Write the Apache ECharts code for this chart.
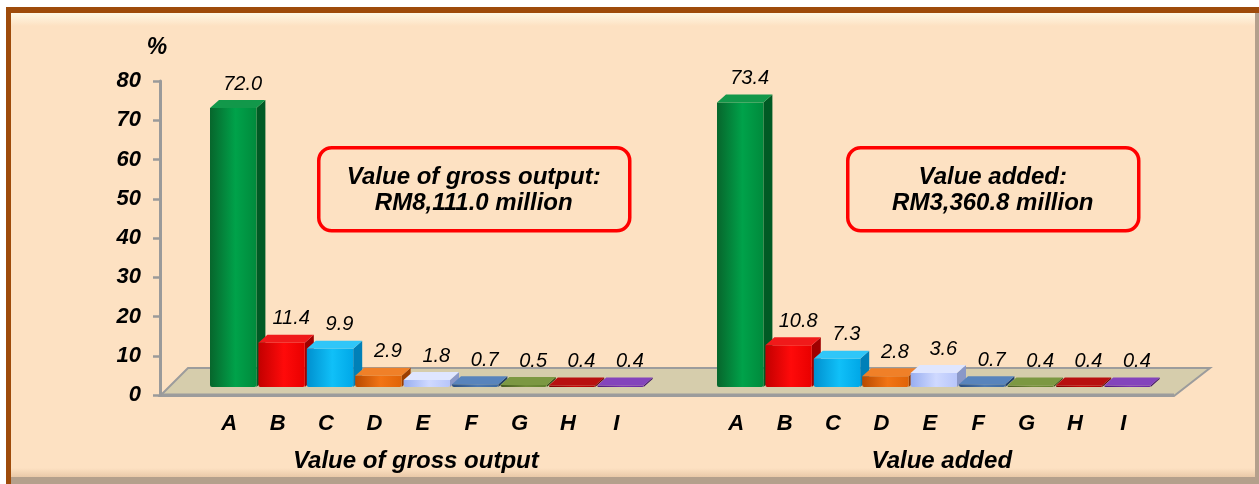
<!DOCTYPE html>
<html>
<head>
<meta charset="utf-8">
<script src="https://cdn.jsdelivr.net/npm/echarts@6/dist/echarts.min.js"></script>
<style>
  html, body { margin: 0; padding: 0; background: #fff; }
  #chart { width: 1259px; height: 484px; }
</style>
</head>
<body>
<div id="chart"></div>
<script>
// industry categories and percentage shares
const industries = ['A', 'B', 'C', 'D', 'E', 'F', 'G', 'H', 'I'];
const grossOutputShare = [72.0, 11.4, 9.9, 2.9, 1.8, 0.7, 0.5, 0.4, 0.4];
const valueAddedShare = [73.4, 10.8, 7.3, 2.8, 3.6, 0.7, 0.4, 0.4, 0.4];
const groupNames = ['Value of gross output', 'Value added'];
const boxTexts = ['Value of gross output:\nRM8,111.0 million', 'Value added:\nRM3,360.8 million'];

// per-industry colours: front gradient dark/light/edge, top face, side face
const palette = [
  { dark: '#07662c', light: '#00a24a', edge: '#008a3c', top: '#12984a', side: '#005a24' },
  { dark: '#c20000', light: '#ff0a0a', edge: '#e80000', top: '#f01a1a', side: '#a00000' },
  { dark: '#0090cf', light: '#10c0f8', edge: '#00a8e8', top: '#30c6f8', side: '#0080b8' },
  { dark: '#b84a00', light: '#f27414', edge: '#e06408', top: '#f08028', side: '#9c3e00' },
  { dark: '#98aef0', light: '#cfd9ff', edge: '#b8c6fa', top: '#dfe6ff', side: '#8a98c8' },
  { dark: '#2a4f80', light: '#4d7ab2', edge: '#3e6aa0', top: '#5884bc', side: '#203e64' },
  { dark: '#465a1e', light: '#718c38', edge: '#62802e', top: '#7c9842', side: '#384a16' },
  { dark: '#7a0000', light: '#c40606', edge: '#a80000', top: '#b81010', side: '#5c0000' },
  { dark: '#4c1878', light: '#7a32b2', edge: '#6828a0', top: '#8444bc', side: '#3c1064' }
];

const FONT = 'Liberation Sans, Arial, sans-serif';
const DX = 9, DY = 8; // 3d depth of the bars
const FLOOR = { frontY: 396, backY: 368, frontL: 160, backL: 188, frontR: 1174, backR: 1210 };

function renderBar(params, api) {
  const i = api.value(0);
  const v = api.value(1);
  const base = api.coord([i, 0]);
  const top = api.coord([i, v]);
  const slot = api.size([1, 0])[0];
  const w = slot - 2;
  const x0 = base[0] - slot / 2;
  const x1 = x0 + w;
  const yb = base[1];
  const yt = top[1];
  const c = palette[i];
  return {
    type: 'group',
    children: [
      {
        type: 'polygon',
        shape: { points: [[x1, yt], [x1 + DX, yt - DY], [x1 + DX, yb - DY], [x1, yb]] },
        style: { fill: c.side }
      },
      {
        type: 'rect',
        shape: { x: x0, y: yt, width: w, height: yb - yt, r: [0, 0, 2, 2] },
        style: {
          fill: new echarts.graphic.LinearGradient(0, 0, 1, 0, [
            { offset: 0, color: c.dark },
            { offset: 0.55, color: c.light },
            { offset: 1, color: c.edge }
          ])
        }
      },
      {
        type: 'polygon',
        shape: { points: [[x0, yt], [x0 + DX, yt - DY], [x1 + DX, yt - DY], [x1, yt]] },
        style: { fill: c.top }
      },
      {
        type: 'text',
        x: (x0 + x1) / 2 + DX / 2 + 5,
        y: yt - DY - 16,
        style: {
          text: v.toFixed(1),
          fill: '#000',
          font: 'italic 20px ' + FONT,
          align: 'center',
          verticalAlign: 'middle'
        }
      }
    ]
  };
}

const chart = echarts.init(document.getElementById('chart'), null, { renderer: 'canvas' });

const catAxis = (gridIndex, name, namePad) => ({
  type: 'category',
  gridIndex: gridIndex,
  data: industries,
  axisLine: { show: false },
  axisTick: { show: false },
  axisLabel: {
    margin: 26,
    color: '#000',
    fontFamily: FONT,
    fontSize: 22,
    fontWeight: 'bold',
    fontStyle: 'italic',
    padding: [0, 10, 0, 0]
  },
  name: name,
  nameLocation: 'middle',
  nameGap: 62,
  nameTextStyle: {
    color: '#000',
    fontFamily: FONT,
    fontSize: 24,
    fontWeight: 'bold',
    fontStyle: 'italic',
    padding: namePad
  }
});

const hiddenValueAxis = (gridIndex) => ({
  type: 'value', gridIndex: gridIndex, min: 0, max: 80, show: false
});

const option = {
  backgroundColor: '#fff',
  animation: false,
  grid: [
    { left: 160, top: 81, width: 1000, height: 314 },   // visible % axis
    { left: 210, top: 77, width: 435.6, height: 310 },  // gross output bars
    { left: 717, top: 77, width: 435.6, height: 310 }   // value added bars
  ],
  xAxis: [
    { type: 'category', gridIndex: 0, data: industries, show: false },
    catAxis(1, groupNames[0], [0, 24, 0, 0]),
    catAxis(2, groupNames[1], [0, 0, 0, 14])
  ],
  yAxis: [
    {
      type: 'value',
      gridIndex: 0,
      min: 0,
      max: 80,
      interval: 10,
      name: '%',
      nameLocation: 'end',
      nameGap: 22,
      nameTextStyle: {
        color: '#000', fontFamily: FONT, fontSize: 23, fontWeight: 'bold', fontStyle: 'italic',
        padding: [0, 6, 0, 0]
      },
      axisLine: { show: true, lineStyle: { color: '#9a9a9a', width: 3 } },
      axisTick: { show: true, length: 7, lineStyle: { color: '#9a9a9a', width: 2.5 } },
      axisLabel: {
        margin: 19,
        color: '#000', fontFamily: FONT, fontSize: 22, fontWeight: 'bold', fontStyle: 'italic'
      },
      splitLine: { show: false }
    },
    hiddenValueAxis(1),
    hiddenValueAxis(2)
  ],
  graphic: [
    // frame
    { type: 'rect', z: -20, shape: { x: 6, y: 7, width: 1260, height: 478 }, style: { fill: '#9e4b0a' } },
    { type: 'rect', z: -19, shape: { x: 11, y: 13, width: 1255, height: 472 }, style: { fill: '#b4a08c' } },
    { type: 'rect', z: -18, shape: { x: 11, y: 13, width: 1244, height: 464 }, style: { fill: '#fde1c2' } },
    {
      type: 'rect', z: -17, shape: { x: 11, y: 13, width: 1244, height: 13 },
      style: { fill: new echarts.graphic.LinearGradient(0, 0, 0, 1, [
        { offset: 0, color: '#fff8e4' }, { offset: 1, color: '#fde1c2' }]) }
    },
    {
      type: 'rect', z: -17, shape: { x: 11, y: 468, width: 1244, height: 9 },
      style: { fill: new echarts.graphic.LinearGradient(0, 0, 0, 1, [
        { offset: 0, color: '#fde1c2' }, { offset: 1, color: '#e9c9a8' }]) }
    },
    // floor
    {
      type: 'polygon', z: -10,
      shape: { points: [[FLOOR.frontL, FLOOR.frontY], [FLOOR.backL, FLOOR.backY], [FLOOR.backR, FLOOR.backY], [FLOOR.frontR, FLOOR.frontY]] },
      style: { fill: '#d6cdac', stroke: '#9c9c9c', lineWidth: 2 }
    },
    {
      type: 'line', z: -9,
      shape: { x1: FLOOR.frontL, y1: FLOOR.frontY - 1, x2: FLOOR.frontR, y2: FLOOR.frontY - 1 },
      style: { stroke: '#9c9c9c', lineWidth: 3 }
    },
    // annotation boxes
    {
      type: 'group', left: 317, top: 146,
      children: [
        { type: 'rect', shape: { x: 0, y: 0, width: 311, height: 83, r: 13 }, style: { fill: 'transparent', stroke: '#ff0000', lineWidth: 3.5 } },
        { type: 'text', x: 155, y: 43, style: { text: boxTexts[0], fill: '#000', font: 'italic bold 24px ' + FONT, align: 'center', verticalAlign: 'middle', lineHeight: 26 } }
      ]
    },
    {
      type: 'group', left: 846, top: 146,
      children: [
        { type: 'rect', shape: { x: 0, y: 0, width: 291, height: 83, r: 13 }, style: { fill: 'transparent', stroke: '#ff0000', lineWidth: 3.5 } },
        { type: 'text', x: 145, y: 43, style: { text: boxTexts[1], fill: '#000', font: 'italic bold 24px ' + FONT, align: 'center', verticalAlign: 'middle', lineHeight: 26 } }
      ]
    }
  ],
  series: [
    {
      type: 'custom',
      xAxisIndex: 1,
      yAxisIndex: 1,
      clip: false,
      renderItem: renderBar,
      data: grossOutputShare.map((v, i) => [i, v])
    },
    {
      type: 'custom',
      xAxisIndex: 2,
      yAxisIndex: 2,
      clip: false,
      renderItem: renderBar,
      data: valueAddedShare.map((v, i) => [i, v])
    }
  ]
};

chart.setOption(option);
</script>
</body>
</html>
